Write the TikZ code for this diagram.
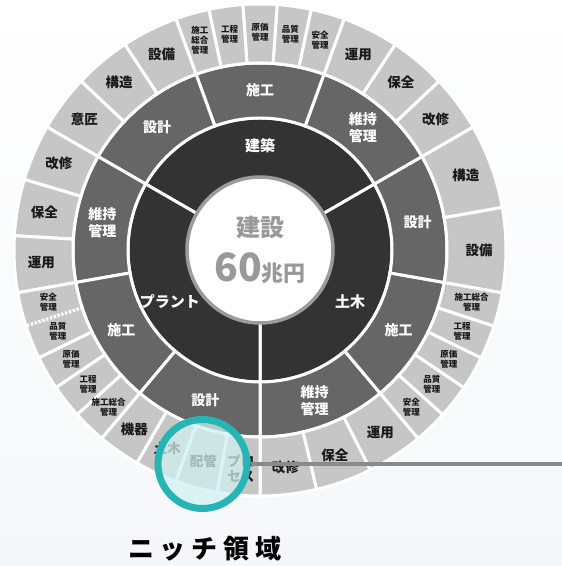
\documentclass[tikz,border=0pt]{standalone}
\usepackage{fontspec}
\setmainfont{Noto Sans CJK JP}
\definecolor{ringA}{HTML}{333333}
\definecolor{ringB}{HTML}{666666}
\definecolor{ringC}{HTML}{C6C6C6}
\definecolor{centerline}{HTML}{9B9B9B}
\definecolor{centertext}{HTML}{999999}
\definecolor{tealA}{HTML}{27B4B4}
\definecolor{tealB}{HTML}{D0F1F1}
\definecolor{linegray}{HTML}{8A8A8A}
\definecolor{bgbot}{HTML}{F5F7FA}
\newcommand{\sectorfill}[5]{%
  \filldraw[fill=#5, draw=white, line width=3pt, line join=miter]
    (#3:#1pt) arc[start angle=#3, end angle=#4, radius=#1pt]
    -- (#4:#2pt) arc[start angle=#4, end angle=#3, radius=#2pt] -- cycle;}
\tikzset{
  labone/.style={font=\bfseries\fontsize{15}{17}\selectfont, text=white, align=center, inner sep=0pt},
  labtwo/.style={font=\bfseries\fontsize{14}{17}\selectfont, text=white, align=center, inner sep=0pt},
  labthree/.style={font=\bfseries\fontsize{13.5}{15}\selectfont, text=black!90, align=center, inner sep=0pt},
  labsmall/.style={font=\bfseries\fontsize{8.5}{10}\selectfont, text=black!90, align=center, inner sep=0pt},
}
\begin{document}
\begin{tikzpicture}[x=1pt,y=1pt]
\useasboundingbox (0,0) rectangle (562,566);
\shade[top color=white, bottom color=bgbot] (0,0) rectangle (562,566);
\begin{scope}[shift={(260,316)}]
  % ring 1
  \foreach \a/\b in {-90/30, 30/150, 150/270} {\sectorfill{72}{132}{\a}{\b}{ringA}}
  % ring 2
  \foreach \a/\b in {-90/-50, -50/-10, -10/30, 30/70, 70/110, 110/150, 150/190, 190/230, 230/270}
    {\sectorfill{132}{187}{\a}{\b}{ringB}}
  % ring 3
  \foreach \a/\b in {-90/-76.667, -76.667/-63.333, -63.333/-50, -50/-42, -42/-34, -34/-26, -26/-18, -18/-10,
      -10/10, 10/30, 30/43.333, 43.333/56.667, 56.667/70, 70/78, 78/86, 86/94, 94/102, 102/110,
      110/123.333, 123.333/136.667, 136.667/150, 150/163.333, 163.333/176.667, 176.667/190,
      190/198, 198/206, 206/214, 214/222, 222/230, 230/240, 240/250, 250/260, 260/270}
    {\sectorfill{187}{246}{\a}{\b}{ringC}}
  \draw[ringC, line width=3pt, dash pattern=on 1.5pt off 2.5pt] (198:189pt) -- (198:244pt);
  % center
  \node[circle, fill=white, draw=centerline, line width=3.5pt, minimum size=146pt, inner sep=0pt] (core) at (0,0) {};
  \node[font=\bfseries\fontsize{24}{26}\selectfont, text=centertext, inner sep=0pt] (coretitle) at (0,22) {建設};
  \node[font=\bfseries, text=centertext, inner sep=0pt] (corevalue) at (0,-18)
    {\fontsize{39}{40}\selectfont 60\fontsize{22}{24}\selectfont 兆円};
  % ring 1 labels
  \node[labone] (lA) at (90:104pt) {建築};
  \node[labone] (lB) at (-30:104pt) {土木};
  \node[labone] (lC) at (210:104pt) {プラント};
  % ring 2 labels
  \foreach \a/\t/\n in {-70/{維持\\管理}/a, -30/施工/b, 10/設計/c, 50/{維持\\管理}/d, 90/施工/e,
      130/設計/f, 170/{維持\\管理}/g, 210/施工/h, 250/設計/i}
    {\node[labtwo] (m\n) at (\a:160pt) {\t};}
  % ring 3 labels (large)
  \foreach \a/\t/\n in {-83.333/改修/a, -70/保全/b, -56.667/運用/c, 0/設備/d, 20/構造/e,
      36.667/改修/f, 50/保全/g, 63.333/運用/h, 116.667/設備/i, 130/構造/j, 143.333/意匠/k,
      156.667/改修/l, 170/保全/m, 183.333/運用/n, 235/機器/o, 245/土木/p, 255/配管/q, 265/{プロ\\セス}/r}
    {\node[labthree] (o\n) at (\a:219pt) {\t};}
  % ring 3 labels (small)
  \foreach \a/\t/\n in {-46/{安全\\管理}/a, -38/{品質\\管理}/b, -30/{原価\\管理}/c, -22/{工程\\管理}/d,
      -14/{施工総合\\管理}/e, 74/{安全\\管理}/f, 82/{品質\\管理}/g, 90/{原価\\管理}/h, 98/{工程\\管理}/i,
      106/{施工\\総合\\管理}/j, 194/{安全\\管理}/k, 202/{品質\\管理}/l, 210/{原価\\管理}/m,
      218/{工程\\管理}/n, 226/{施工総合\\管理}/o}
    {\node[labsmall] (s\n) at (\a:218pt) {\t};}
\end{scope}
% niche highlight
\node[circle, minimum size=89pt, inner sep=0pt, draw=tealA, line width=7pt, fill=tealB, fill opacity=0.74, draw opacity=1] (niche) at (202.5,102) {};
\coordinate (lineend) at (562,102);
\draw[linegray, line width=3.5pt] (niche.east) -- (niche.east -| lineend);
\node[font=\bfseries\fontsize{26}{28}\selectfont, text=black, inner sep=0pt] (nichelabel) at (205,17)
  {ニ\hspace{6pt}ッ\hspace{6pt}チ\hspace{6pt}領\hspace{6pt}域};
\end{tikzpicture}
\end{document}
